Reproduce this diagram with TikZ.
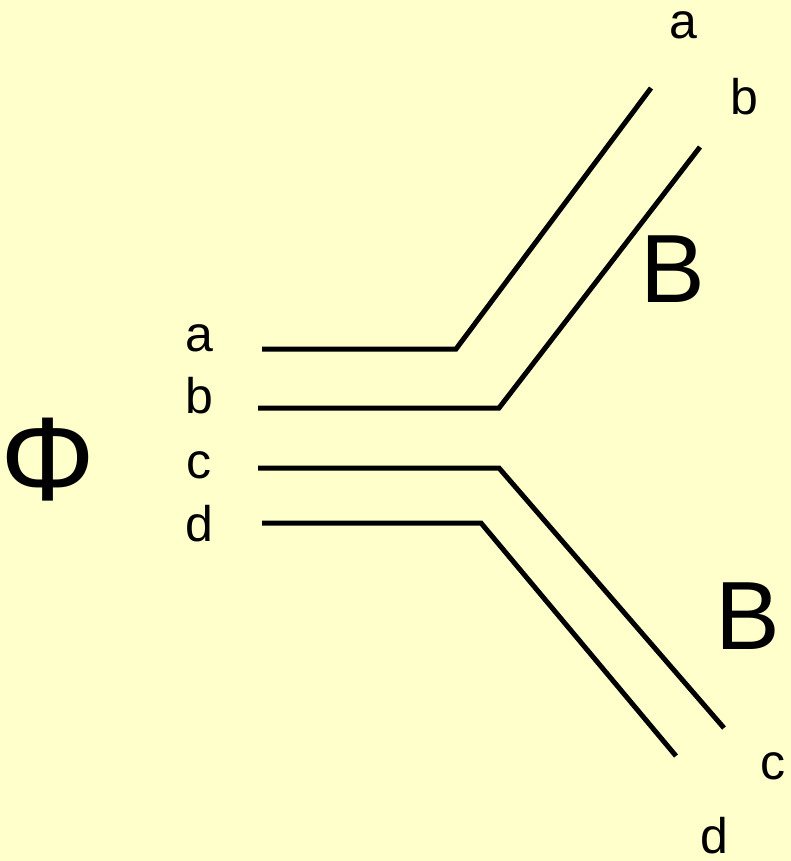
\documentclass[tikz,border=0pt]{standalone}
\usepackage{fontspec}
\setmainfont{Liberation Sans}
\definecolor{bgyellow}{HTML}{FFFFCC}
\begin{document}
\begin{tikzpicture}[x=1pt,y=-1pt,
  wire/.style={line width=5pt,line join=miter,line cap=butt},
  lbl/.style={anchor=base,inner sep=0pt,font=\fontsize{50}{50}\selectfont},
  big/.style={anchor=base,inner sep=0pt,font=\fontsize{97}{97}\selectfont}]
\fill[bgyellow] (0,0) rectangle (791,861);
\useasboundingbox (0,0) rectangle (791,861);
% wires
\coordinate (a0) at (262,349); \coordinate (a1) at (456,349); \coordinate (a2) at (651,88);
\coordinate (b0) at (258,408); \coordinate (b1) at (499,408); \coordinate (b2) at (700,147);
\coordinate (c0) at (258,468); \coordinate (c1) at (499,468); \coordinate (c2) at (724,728);
\coordinate (d0) at (262,523); \coordinate (d1) at (481,523); \coordinate (d2) at (676,756);
\draw[wire] (a0) -- (a1) -- (a2);
\draw[wire] (b0) -- (b1) -- (b2);
\draw[wire] (c0) -- (c1) -- (c2);
\draw[wire] (d0) -- (d1) -- (d2);
% labels
\node[lbl] (la) at (199,351) {a};
\node[lbl] (lb) at (199,413) {b};
\node[lbl] (lc) at (199,478) {c};
\node[lbl] (ld) at (199,541) {d};
\node[lbl] (ta) at (683,39) {a};
\node[lbl] (tb) at (744,115) {b};
\node[lbl] (bc) at (773,779) {c};
\node[lbl] (bd) at (714,853) {d};
\node[big] (B1) at (673,302) {B};
\node[big] (B2) at (748,649) {B};
\node[anchor=base,inner sep=0pt,font=\fontsize{119}{119}\selectfont] (phi) at (48,500) {Φ};
\end{tikzpicture}
\end{document}
